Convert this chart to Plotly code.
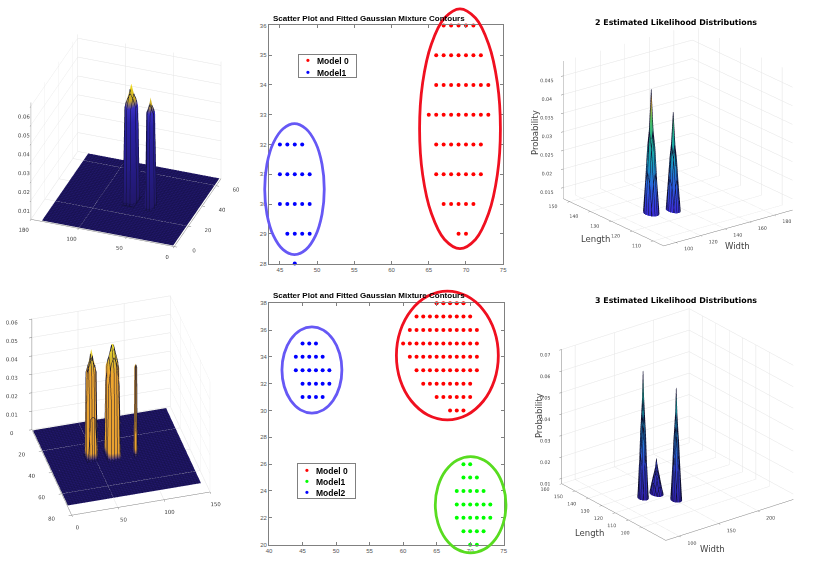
"""
Gaussian mixture fits: likelihood surfaces and scatter plots with contours
"""
import plotly.graph_objects as go

# top scatter
TOP_RED_X = [67, 68, 69, 70, 71, 66, 67, 68, 69, 70, 71, 72, 66, 67, 68, 69, 70, 71, 72, 73,
             65, 66, 67, 68, 69, 70, 71, 72, 73, 66, 67, 68, 69, 70, 71, 72,
             66, 67, 68, 69, 70, 71, 72, 67, 68, 69, 70, 71, 69, 70]
TOP_RED_Y = [36] * 5 + [35] * 7 + [34] * 8 + [33] * 9 + [32] * 7 + [31] * 7 + [30] * 5 + [29] * 2
TOP_BLUE_X = [45, 46, 47, 48, 45, 46, 47, 48, 49, 45, 46, 47, 48, 49, 46, 47, 48, 49, 47]
TOP_BLUE_Y = [32] * 4 + [31] * 5 + [30] * 5 + [29] * 4 + [28]

TOP_RED_EX = [74.63, 74.22, 73.04, 71.28, 69.2, 67.12, 65.36, 64.18, 63.77, 64.18, 65.36, 67.12, 69.2, 71.28, 73.04, 74.22, 74.63]
TOP_RED_EY = [32.53, 34.07, 35.38, 36.25, 36.56, 36.25, 35.38, 34.07, 32.53, 30.99, 29.68, 28.81, 28.5, 28.81, 29.68, 30.99, 32.53]
TOP_BLUE_EX = [50.96, 50.66, 49.79, 48.49, 46.96, 45.43, 44.13, 43.26, 42.96, 43.26, 44.13, 45.43, 46.96, 48.49, 49.79, 50.66, 50.96]
TOP_BLUE_EY = [30.5, 31.34, 32.06, 32.53, 32.7, 32.53, 32.06, 31.34, 30.5, 29.66, 28.94, 28.47, 28.3, 28.47, 28.94, 29.66, 30.5]

# bottom scatter
BOT_RED_X = [65, 66, 67, 68, 69, 62, 63, 64, 65, 66, 67, 68, 69, 70,
             61, 62, 63, 64, 65, 66, 67, 68, 69, 70, 71, 60, 61, 62, 63, 64, 65, 66, 67, 68, 69, 70, 71,
             61, 62, 63, 64, 65, 66, 67, 68, 69, 70, 71, 62, 63, 64, 65, 66, 67, 68, 69, 70, 71,
             63, 64, 65, 66, 67, 68, 69, 70, 65, 66, 67, 68, 69, 70, 67, 68, 69]
BOT_RED_Y = [38] * 5 + [37] * 9 + [36] * 11 + [35] * 12 + [34] * 11 + [33] * 10 + [32] * 8 + [31] * 6 + [30] * 3
BOT_GREEN_X = [69, 70, 69, 70, 71, 68, 69, 70, 71, 72, 68, 69, 70, 71, 72, 73, 68, 69, 70, 71, 72, 73, 69, 70, 71, 72, 70, 71]
BOT_GREEN_Y = [26] * 2 + [25] * 3 + [24] * 5 + [23] * 6 + [22] * 6 + [21] * 4 + [20] * 2
BOT_BLUE_X = [45, 46, 47, 44, 45, 46, 47, 48, 44, 45, 46, 47, 48, 49, 45, 46, 47, 48, 49, 45, 46, 47, 48]
BOT_BLUE_Y = [35] * 3 + [34] * 5 + [33] * 6 + [32] * 5 + [31] * 4

BOT_RED_EX = [74.2, 73.62, 71.97, 69.51, 66.6, 63.69, 61.23, 59.58, 59.0, 59.58, 61.23, 63.69, 66.6, 69.51, 71.97, 73.62, 74.2]
BOT_RED_EY = [34.1, 35.94, 37.49, 38.53, 38.9, 38.53, 37.49, 35.94, 34.1, 32.26, 30.71, 29.67, 29.3, 29.67, 30.71, 32.26, 34.1]
BOT_GREEN_EX = [75.34, 74.94, 73.8, 72.09, 70.07, 68.05, 66.34, 65.2, 64.8, 65.2, 66.34, 68.05, 70.07, 72.09, 73.8, 74.94, 75.34]
BOT_GREEN_EY = [22.98, 24.35, 25.52, 26.3, 26.57, 26.3, 25.52, 24.35, 22.98, 21.61, 20.44, 19.66, 19.39, 19.66, 20.44, 21.61, 22.98]
BOT_BLUE_EX = [50.87, 50.53, 49.56, 48.11, 46.4, 44.69, 43.24, 42.27, 41.93, 42.27, 43.24, 44.69, 46.4, 48.11, 49.56, 50.53, 50.87]
BOT_BLUE_EY = [33.02, 34.25, 35.29, 35.99, 36.23, 35.99, 35.29, 34.25, 33.02, 31.79, 30.75, 30.05, 29.81, 30.05, 30.75, 31.79, 33.02]

# left surfaces: floor and columns
TL_FLOOR_X = [2, 139]
TL_FLOOR_Y = [1, 67]
TL_A_X = [62.5, 63.5, 66, 69, 72, 74.5, 75.5]
TL_A_Y = [27.5, 28.5, 31, 33, 35, 37.5, 38.5]
TL_A_Z = [[0, 0, 0, 0, 0, 0, 0],
          [0, 0, 0.050, 0.052, 0.050, 0, 0],
          [0, 0.050, 0.054, 0.056, 0.054, 0.050, 0],
          [0, 0.052, 0.056, 0.062, 0.056, 0.052, 0],
          [0, 0.050, 0.054, 0.056, 0.054, 0.050, 0],
          [0, 0, 0.050, 0.052, 0.050, 0, 0],
          [0, 0, 0, 0, 0, 0, 0]]
TL_B_X = [42.5, 43.5, 45.5, 47, 48.5, 50.5, 51.5]
TL_B_Y = [26.5, 27.5, 29, 30.5, 32, 33.5, 34.5]
TL_B_Z = [[0, 0, 0, 0, 0, 0, 0],
          [0, 0, 0.050, 0.051, 0.050, 0, 0],
          [0, 0.050, 0.052, 0.054, 0.052, 0.050, 0],
          [0, 0.051, 0.054, 0.058, 0.054, 0.051, 0],
          [0, 0.050, 0.052, 0.054, 0.052, 0.050, 0],
          [0, 0, 0.050, 0.051, 0.050, 0, 0],
          [0, 0, 0, 0, 0, 0, 0]]

BL_FLOOR_X = [1, 145]
BL_FLOOR_Y = [1, 71]
BL_A_X = [40.5, 41.5, 44, 46.5, 49, 51.5, 52.5]
BL_A_Y = [29, 30, 31.5, 33, 34.5, 36, 37]
BL_A_Z = [[0, 0, 0, 0, 0, 0, 0],
          [0, 0, 0.046, 0.048, 0.046, 0, 0],
          [0, 0.046, 0.050, 0.053, 0.050, 0.046, 0],
          [0, 0.048, 0.053, 0.059, 0.053, 0.048, 0],
          [0, 0.046, 0.050, 0.053, 0.050, 0.046, 0],
          [0, 0, 0.046, 0.048, 0.046, 0, 0],
          [0, 0, 0, 0, 0, 0, 0]]
BL_B_X = [62, 63, 66, 69, 72, 75, 76]
BL_B_Y = [28, 29, 31.5, 34, 36.5, 39, 40]
BL_B_Z = [[0, 0, 0, 0, 0, 0, 0],
          [0, 0, 0.048, 0.050, 0.048, 0, 0],
          [0, 0.048, 0.052, 0.056, 0.052, 0.048, 0],
          [0, 0.050, 0.056, 0.0625, 0.056, 0.050, 0],
          [0, 0.048, 0.052, 0.056, 0.052, 0.048, 0],
          [0, 0, 0.048, 0.050, 0.048, 0, 0],
          [0, 0, 0, 0, 0, 0, 0]]
BL_C_X = [90.5, 91, 92, 93, 93.5]
BL_C_Y = [36.5, 37, 38, 39, 39.5]
BL_C_Z = [[0, 0, 0, 0, 0],
          [0, 0.048, 0.049, 0.048, 0],
          [0, 0.049, 0.050, 0.049, 0],
          [0, 0.048, 0.049, 0.048, 0],
          [0, 0, 0, 0, 0]]

# right surfaces: cones, cut off by the z range
TR_A_X = [114.65, 116.1, 117.55, 119, 120.45, 121.9, 123.35]
TR_A_Y = [125.15, 126.1, 127.05, 128, 128.95, 129.9, 130.85]
TR_A_Z = [[0, 0.0053, 0.0102, 0.012, 0.0102, 0.0053, 0],
          [0.0053, 0.0139, 0.0205, 0.0232, 0.0205, 0.0139, 0.0053],
          [0.0102, 0.0205, 0.0298, 0.0343, 0.0298, 0.0205, 0.0102],
          [0.012, 0.0232, 0.0343, 0.0455, 0.0343, 0.0232, 0.012],
          [0.0102, 0.0205, 0.0298, 0.0343, 0.0298, 0.0205, 0.0102],
          [0.0053, 0.0139, 0.0205, 0.0232, 0.0205, 0.0139, 0.0053],
          [0, 0.0053, 0.0102, 0.012, 0.0102, 0.0053, 0]]
TR_B_X = [129.75, 131, 132.25, 133.5, 134.75, 136, 137.25]
TR_B_Y = [123.3, 124.2, 125.1, 126, 126.9, 127.8, 128.7]
TR_B_Z = [[0.0011, 0.0067, 0.0106, 0.012, 0.0106, 0.0067, 0.0011],
          [0.0067, 0.0135, 0.0187, 0.0208, 0.0187, 0.0135, 0.0067],
          [0.0106, 0.0187, 0.026, 0.0297, 0.026, 0.0187, 0.0106],
          [0.012, 0.0208, 0.0297, 0.0385, 0.0297, 0.0208, 0.012],
          [0.0106, 0.0187, 0.026, 0.0297, 0.026, 0.0187, 0.0106],
          [0.0067, 0.0135, 0.0187, 0.0208, 0.0187, 0.0135, 0.0067],
          [0.0011, 0.0067, 0.0106, 0.012, 0.0106, 0.0067, 0.0011]]

BR_A_X = [122, 124, 125.5, 127, 128.5, 130, 132]
BR_A_Y = [122, 123, 124, 125, 126, 127, 128]
BR_A_Z = [[0, 0, 0.0043, 0.0075, 0.0043, 0, 0],
          [0, 0.0109, 0.0226, 0.0273, 0.0226, 0.0109, 0],
          [0.0043, 0.0226, 0.039, 0.0472, 0.039, 0.0226, 0.0043],
          [0.0075, 0.0273, 0.0472, 0.067, 0.0472, 0.0273, 0.0075],
          [0.0043, 0.0226, 0.039, 0.0472, 0.039, 0.0226, 0.0043],
          [0, 0.0109, 0.0226, 0.0273, 0.0226, 0.0109, 0],
          [0, 0, 0.0043, 0.0075, 0.0043, 0, 0]]
BR_B_X = [138, 140, 142, 144, 146, 148, 150]
BR_B_Y = [121, 122.5, 124, 125, 126, 127.5, 129]
BR_B_Z = [[0, 0.0042, 0.0066, 0.0075, 0.0066, 0.0042, 0],
          [0.0042, 0.0084, 0.0117, 0.013, 0.0117, 0.0084, 0.0042],
          [0.0066, 0.0117, 0.0162, 0.0185, 0.0162, 0.0117, 0.0066],
          [0.0075, 0.013, 0.0185, 0.024, 0.0185, 0.013, 0.0075],
          [0.0066, 0.0117, 0.0162, 0.0185, 0.0162, 0.0117, 0.0066],
          [0.0042, 0.0084, 0.0117, 0.013, 0.0117, 0.0084, 0.0042],
          [0, 0.0042, 0.0066, 0.0075, 0.0066, 0.0042, 0]]
BR_C_X = [145.5, 147.2, 149, 150.5, 152, 153.8, 155.5]
BR_C_Y = [111, 112, 113, 114, 115, 116, 117]
BR_C_Z = [[0, 0, 0.005, 0.0075, 0.005, 0, 0],
          [0, 0.0107, 0.021, 0.025, 0.021, 0.0107, 0],
          [0.005, 0.021, 0.0355, 0.0425, 0.0355, 0.021, 0.005],
          [0.0075, 0.025, 0.0425, 0.06, 0.0425, 0.025, 0.0075],
          [0.005, 0.021, 0.0355, 0.0425, 0.0355, 0.021, 0.005],
          [0, 0.0107, 0.021, 0.025, 0.021, 0.0107, 0],
          [0, 0, 0.005, 0.0075, 0.005, 0, 0]]

NAVY_BLUE_YELLOW = [[0, "#211769"], [0.7, "#2a22a8"], [0.82, "#3a30c0"], [0.88, "#c8a828"], [1, "#f2e020"]]
NAVY_ORANGE_YELLOW = [[0, "#211769"], [0.015, "#3a2a80"], [0.07, "#e8a030"], [0.75, "#f0a830"], [0.85, "#d8b830"], [1, "#f8ec30"]]
PARULA_TR = [[0, "#3a30d8"], [0.2, "#2a60e0"], [0.4, "#18a0c0"], [0.6, "#20b090"], [0.75, "#50c060"], [0.9, "#f0a830"], [1, "#f8b020"]]
PARULA_BR = [[0, "#3020a8"], [0.25, "#3040d0"], [0.5, "#2090e0"], [0.75, "#10b0a0"], [1, "#30a060"]]
FLAT = dict(ambient=1, diffuse=0, specular=0, roughness=1, fresnel=0)


def surface(x, y, z, colorscale, cmin, cmax, scene, step_x, step_y, mesh="#101030"):
    return go.Surface(
        x=x, y=y, z=z, colorscale=colorscale, cmin=cmin, cmax=cmax, showscale=False, scene=scene,
        lighting=FLAT,
        contours=dict(
            x=dict(show=True, start=min(x), end=max(x), size=step_x, color=mesh, width=1),
            y=dict(show=True, start=min(y), end=max(y), size=step_y, color=mesh, width=1),
        ),
    )


def axis3d(rng, ticks, size=7.5):
    return dict(range=rng, tickvals=ticks, title=dict(text=""), showbackground=False, showspikes=False,
                gridcolor="#e4e4e4", gridwidth=1, linecolor="#808080", linewidth=1, zeroline=False,
                ticks="outside", ticklen=3, tickcolor="#808080", tickangle=0,
                tickfont=dict(size=size, color="#444444"))


fig = go.Figure()

zero_row = [0, 0]
fig.add_trace(surface(TL_FLOOR_X, TL_FLOOR_Y, [zero_row, zero_row], NAVY_BLUE_YELLOW, 0, 0.062, "scene", 3, 1.5, "#15104a"))
fig.add_trace(surface(TL_A_X, TL_A_Y, TL_A_Z, NAVY_BLUE_YELLOW, 0, 0.062, "scene", 4, 4))
fig.add_trace(surface(TL_B_X, TL_B_Y, TL_B_Z, NAVY_BLUE_YELLOW, 0, 0.062, "scene", 3, 3))

fig.add_trace(surface(BL_FLOOR_X, BL_FLOOR_Y, [zero_row, zero_row], NAVY_ORANGE_YELLOW, 0, 0.0625, "scene3", 3, 1.5, "#15104a"))
fig.add_trace(surface(BL_A_X, BL_A_Y, BL_A_Z, NAVY_ORANGE_YELLOW, 0, 0.0625, "scene3", 2.5, 2.5))
fig.add_trace(surface(BL_B_X, BL_B_Y, BL_B_Z, NAVY_ORANGE_YELLOW, 0, 0.0625, "scene3", 3, 3))
fig.add_trace(surface(BL_C_X, BL_C_Y, BL_C_Z, NAVY_ORANGE_YELLOW, 0, 0.0625, "scene3", 2, 2))

fig.add_trace(surface(TR_A_X, TR_A_Y, TR_A_Z, PARULA_TR, 0.013, 0.0455, "scene2", 1.45, 0.95))
fig.add_trace(surface(TR_B_X, TR_B_Y, TR_B_Z, PARULA_TR, 0.013, 0.0455, "scene2", 1.25, 0.9))

fig.add_trace(surface(BR_A_X, BR_A_Y, BR_A_Z, PARULA_BR, 0.008, 0.067, "scene4", 2, 1))
fig.add_trace(surface(BR_B_X, BR_B_Y, BR_B_Z, PARULA_BR, 0.008, 0.067, "scene4", 2, 1.2))
fig.add_trace(surface(BR_C_X, BR_C_Y, BR_C_Z, PARULA_BR, 0.008, 0.067, "scene4", 2, 1))


def dots(x, y, color, xaxis, yaxis):
    return go.Scatter(x=x, y=y, mode="markers", marker=dict(color=color, size=4), showlegend=False,
                      xaxis=xaxis, yaxis=yaxis, cliponaxis=False)


def contour(x, y, color, xaxis, yaxis):
    return go.Scatter(x=x, y=y, mode="lines", line=dict(color=color, width=2.8, shape="spline"),
                      showlegend=False, xaxis=xaxis, yaxis=yaxis, cliponaxis=False)


fig.add_trace(dots(TOP_RED_X, TOP_RED_Y, "#ff0000", "x", "y"))
fig.add_trace(dots(TOP_BLUE_X, TOP_BLUE_Y, "#0000ff", "x", "y"))
# contours run past the axes, so they sit on hidden axes with the same scale and more room
fig.add_trace(contour(TOP_RED_EX, TOP_RED_EY, "#f01020", "x3", "y3"))
fig.add_trace(contour(TOP_BLUE_EX, TOP_BLUE_EY, "#6658f5", "x3", "y3"))

fig.add_trace(dots(BOT_RED_X, BOT_RED_Y, "#ff0000", "x2", "y2"))
fig.add_trace(dots(BOT_GREEN_X, BOT_GREEN_Y, "#00ff00", "x2", "y2"))
fig.add_trace(dots(BOT_BLUE_X, BOT_BLUE_Y, "#0000ff", "x2", "y2"))
fig.add_trace(contour(BOT_RED_EX, BOT_RED_EY, "#f01020", "x4", "y4"))
fig.add_trace(contour(BOT_GREEN_EX, BOT_GREEN_EY, "#58dc20", "x4", "y4"))
fig.add_trace(contour(BOT_BLUE_EX, BOT_BLUE_EY, "#6658f5", "x4", "y4"))

W, H = 822, 582


def dom(left, right, top, bottom):
    return dict(x=[left / W, right / W], y=[1 - bottom / H, 1 - top / H])


def eye(dx, dy, dz):
    return dict(projection=dict(type="orthographic"), up=dict(x=0, y=0, z=1),
                eye=dict(x=dx * 2, y=dy * 2, z=dz * 2))


axis2d = dict(showgrid=False, zeroline=False, showline=True, mirror="ticks", linecolor="#808080", linewidth=1,
              ticks="inside", ticklen=3, tickcolor="#808080", tickfont=dict(size=6, color="#555555", family="Liberation Sans"))

fig.update_layout(
    width=W, height=H, margin=dict(l=0, r=0, t=0, b=0), paper_bgcolor="white", plot_bgcolor="rgba(0,0,0,0)",
    font=dict(family="DejaVu Sans"),
    scene=dict(domain=dom(0, 248, 9.5, 269.5), aspectmode="manual", aspectratio=dict(x=1.186, y=1.07, z=1.07),
               xaxis=axis3d([150, 0], [0, 50, 100, 150], 8), yaxis=axis3d([0, 67], [0, 20, 40, 60], 8),
               zaxis=axis3d([0, 0.062], [0, 0.01, 0.02, 0.03, 0.04, 0.05, 0.06], 8),
               camera=eye(0.27, -0.746, 0.49)),
    scene3=dict(domain=dom(0, 238, 277, 537), aspectmode="manual", aspectratio=dict(x=1.118, y=1.15, z=1.077),
                xaxis=axis3d([150, 0], [0, 50, 100, 150], 8), yaxis=axis3d([0, 80], [0, 20, 40, 60, 80], 8),
                zaxis=axis3d([0, 0.06], [0, 0.01, 0.02, 0.03, 0.04, 0.05, 0.06], 8),
                camera=eye(0.215, 0.77, 0.601)),
    scene2=dict(domain=dom(540, 822, 4, 264), aspectmode="manual", aspectratio=dict(x=1.265, y=1.28, z=1.15),
                xaxis=axis3d([90, 195], [100, 120, 140, 160, 180]), yaxis=axis3d([105, 153], [110, 120, 130, 140, 150]),
                zaxis=axis3d([0.012, 0.049], [0.015, 0.02, 0.025, 0.03, 0.035, 0.04, 0.045]),
                camera=eye(-0.55, -0.716, 0.35)),
    scene4=dict(domain=dom(539, 822, 296, 556), aspectmode="manual", aspectratio=dict(x=1.25, y=1.33, z=1.15),
                xaxis=axis3d([83, 245], [100, 150, 200]), yaxis=axis3d([82, 160], [100, 110, 120, 130, 140, 150, 160]),
                zaxis=axis3d([0.0075, 0.07], [0.01, 0.02, 0.03, 0.04, 0.05, 0.06, 0.07]),
                camera=eye(-0.543, -0.707, 0.41)),
    xaxis=dict(axis2d, domain=[268 / W, 504.5 / W], range=[43.5, 75], tickvals=[45, 50, 55, 60, 65, 70, 75], anchor="y"),
    yaxis=dict(axis2d, domain=[1 - 263.3 / H, 1 - 22.7 / H], range=[28, 36], tickvals=list(range(28, 37)), anchor="x"),
    xaxis2=dict(axis2d, domain=[268.3 / W, 505 / W], range=[40, 75], tickvals=[40, 45, 50, 55, 60, 65, 70, 75], anchor="y2"),
    yaxis2=dict(axis2d, domain=[1 - 547.3 / H, 1 - 303.3 / H], range=[20, 38], tickvals=list(range(20, 40, 2)), anchor="x2"),
    xaxis3=dict(visible=False, domain=[253 / W, 520 / W], range=[41.5, 77.07], anchor="y3"),
    yaxis3=dict(visible=False, domain=[1 - 263.3 / H, 1], range=[28, 36.755], anchor="x3"),
    xaxis4=dict(visible=False, domain=[253 / W, 520 / W], range=[37.74, 77.22], anchor="y4"),
    yaxis4=dict(visible=False, domain=[1 - 565 / H, 1 - 285 / H], range=[18.7, 39.35], anchor="x4"),
)

TITLE_2D = dict(family="Liberation Sans", size=8, color="black", weight="bold")
TITLE_3D = dict(family="DejaVu Sans", size=7.9, color="black", weight="bold")
LABEL_3D = dict(family="DejaVu Sans", size=8.5, color="#444444")


def note(text, px, py, font, angle=0):
    fig.add_annotation(text=text, x=px / W, y=1 - py / H, xref="paper", yref="paper", showarrow=False,
                       font=font, textangle=angle, xanchor="center", yanchor="middle")


# plotly's own legend cannot get this tight, so the key is one bordered annotation
def key(names, colors, left, top, width, height):
    rows = [f'&nbsp;&nbsp;&nbsp;<span style="color:{c};font-size:11px">•</span>&nbsp;&nbsp;&nbsp;{n}' for n, c in zip(names, colors)]
    fig.add_annotation(text="<br>".join(rows), x=left / W, y=1 - top / H, xref="paper", yref="paper", showarrow=False,
                       xanchor="left", yanchor="top", align="left", width=width, height=height, bgcolor="white",
                       bordercolor="#808080", borderwidth=1, borderpad=0,
                       font=dict(family="Liberation Sans", size=8.5, color="black", weight="bold"))


note("Scatter Plot and Fitted Gaussian Mixture Contours", 369, 16, TITLE_2D)
note("Scatter Plot and Fitted Gaussian Mixture Contours", 369, 296, TITLE_2D)
note("2 Estimated Likelihood Distributions", 678.5, 20, TITLE_3D)
note("3 Estimated Likelihood Distributions", 678.5, 301, TITLE_3D)
note("Probability", 536, 131, LABEL_3D, -90)
note("Length", 598, 238, LABEL_3D)
note("Width", 741, 246, LABEL_3D)
note("Probability", 540, 417, LABEL_3D, -90)
note("Length", 592, 536, LABEL_3D)
note("Width", 716, 552, LABEL_3D)
key(["Model 0", "Model1"], ["#ff0000", "#0000ff"], 298, 52, 57, 22)
key(["Model 0", "Model1", "Model2"], ["#ff0000", "#00ff00", "#0000ff"], 297, 465, 57, 34)

fig.write_html("out.html", config={"displayModeBar": False}, post_script="document.body.style.margin='0';")
